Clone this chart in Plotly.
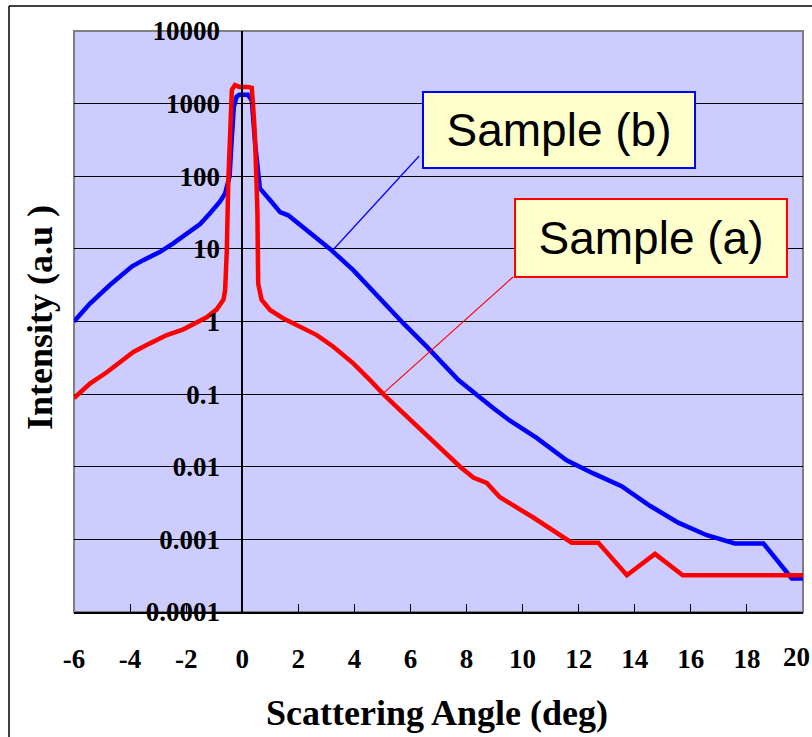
import plotly.graph_objects as go

# ---- data ----
angle_a = [-6.0, -5.43, -4.83, -4.36, -3.88, -3.29, -2.69, -2.10, -1.74, -1.27, -0.91,
           -0.67, -0.61, -0.55, -0.50, -0.43, -0.37, -0.26, -0.10, 0.20, 0.34, 0.42,
           0.46, 0.54, 0.57, 0.69, 0.99, 1.47, 2.06, 2.66, 3.25, 3.96, 4.56, 5.03,
           5.63, 6.82, 7.77, 8.24, 8.72, 9.19, 10.38, 11.75, 12.70, 13.72, 14.72,
           15.71, 20.0]
intensity_a = [0.088, 0.14, 0.20, 0.28, 0.38, 0.50, 0.65, 0.78, 0.92, 1.14, 1.47,
               2.0, 2.7, 9.5, 79, 660, 1550, 1800, 1700, 1700, 1650, 600,
               300, 34, 3.3, 2.0, 1.44, 1.10, 0.85, 0.65, 0.45, 0.265, 0.156, 0.10,
               0.06, 0.022, 0.010, 0.0071, 0.0060, 0.0038, 0.0020, 0.0009, 0.0009,
               0.00032, 0.00063, 0.00032, 0.00032]

angle_b = [-6.0, -5.43, -4.71, -3.94, -3.53, -2.93, -2.46, -1.98, -1.50, -1.15, -0.79,
           -0.61, -0.45, -0.38, -0.30, -0.20, -0.10, 0.20, 0.34, 0.46, 0.57, 0.63,
           0.99, 1.35, 1.64, 2.30, 3.13, 3.96, 4.44, 5.03, 5.75, 6.58, 7.71, 8.96,
           9.55, 10.50, 11.57, 12.52, 13.53, 14.54, 15.55, 16.57, 17.57, 18.59,
           19.60, 20.0]
intensity_b = [1.0, 1.77, 3.2, 5.7, 7.0, 9.1, 11.9, 16.3, 22, 31, 45,
               58, 100, 300, 900, 1245, 1320, 1320, 1120, 280, 98, 68,
               47, 32, 29, 18, 10, 5.1, 3.2, 1.86, 0.94, 0.45, 0.156, 0.064,
               0.043, 0.025, 0.0123, 0.0081, 0.0054, 0.0029, 0.0017, 0.00114, 0.00088, 0.00088,
               0.00029, 0.00029]

x_ticks = [-6, -4, -2, 0, 2, 4, 6, 8, 10, 12, 14, 16, 18, 20]
x_ticktext = ["-6", "-4", "-2", "0", "2", "4", "6", "8", "10", "12", "14", "16", "18", "20"]
y_tickvals = [1e-4, 1e-3, 1e-2, 1e-1, 1, 10, 100, 1000, 10000]
y_ticktext = ["0.0001", "0.001", "0.01", "0.1", "1", "10", "100", "1000", "10000"]

label_a = "Sample (a)"
label_b = "Sample (b)"
leader_a_x = [5.0, 9.66]
leader_a_y = [0.1, 4.1]
leader_b_x = [3.25, 6.31]
leader_b_y = [9.8, 190]

x_title = "Scattering Angle (deg)"
y_title = "Intensity (a.u )"

# ---- layout constants ----
W, H = 812, 737
ML, MR, MT, MB = 74, 9, 31, 125
PW, PH = W - ML - MR, H - MT - MB
X_MIN, X_MAX = -6, 20

def px_x(p):
    return (p - ML) / PW

def px_y(p):
    return (H - MB - p) / PH

SERIF = "Times New Roman, Liberation Serif, serif"
SANS = "Arial, Liberation Sans, sans-serif"
TICK_FONT = dict(family=SERIF, size=27, color="black", weight="bold")

fig = go.Figure()
fig.add_trace(go.Scatter(x=angle_b, y=intensity_b, mode="lines",
                         line=dict(color="#0000FF", width=4.5), hoverinfo="skip"))
fig.add_trace(go.Scatter(x=angle_a, y=intensity_a, mode="lines",
                         line=dict(color="#FF0000", width=4.5), hoverinfo="skip"))
fig.add_trace(go.Scatter(x=leader_b_x, y=leader_b_y, mode="lines",
                         line=dict(color="#0000FF", width=1.2), hoverinfo="skip"))
fig.add_trace(go.Scatter(x=leader_a_x, y=leader_a_y, mode="lines",
                         line=dict(color="#FF0000", width=1.2), hoverinfo="skip"))

# the last tick label (20) sits at the right edge of the picture; drawn separately
shown_ticks = x_ticks[:-1]
shown_text = x_ticktext[:-1]

fig.update_layout(
    width=W, height=H,
    margin=dict(l=ML, r=MR, t=MT, b=MB),
    paper_bgcolor="white",
    plot_bgcolor="#CCCCFF",
    showlegend=False,
    xaxis=dict(range=[X_MIN, X_MAX], tickvals=shown_ticks, ticktext=shown_text,
               showgrid=False, zeroline=False,
               ticks="inside", ticklen=8, tickcolor="black", tickwidth=1,
               showline=True, linecolor="black", linewidth=2,
               tickfont=TICK_FONT, ticklabelstandoff=22),
    yaxis=dict(type="log", range=[-4, 4], tickvals=y_tickvals, ticktext=y_ticktext,
               anchor="free", position=(0 - X_MIN) / (X_MAX - X_MIN), side="left",
               showgrid=True, gridcolor="black", gridwidth=1, zeroline=False,
               ticks="inside", ticklen=9, tickcolor="black", tickwidth=1,
               showline=True, linecolor="black", linewidth=1.5,
               tickfont=TICK_FONT, ticklabelstandoff=16),
)

# tick label for 20, kept inside the picture's right edge
fig.add_annotation(text=f"<b>{x_ticktext[-1]}</b>", xref="paper", yref="paper", x=px_x(811),
                   y=px_y(657), xanchor="right", yanchor="middle", showarrow=False,
                   font=TICK_FONT, borderpad=0)

# plot-area border (grey) and outer chart frame
fig.add_shape(type="rect", xref="paper", yref="paper", x0=0, x1=1, y0=0, y1=1,
              line=dict(color="#808080", width=2), layer="below")
fig.add_shape(type="line", xref="paper", yref="paper", x0=px_x(9), x1=px_x(830),
              y0=px_y(6), y1=px_y(6), line=dict(color="black", width=1.5))
fig.add_shape(type="line", xref="paper", yref="paper", x0=px_x(9), x1=px_x(9),
              y0=px_y(6), y1=px_y(760), line=dict(color="black", width=1.5))

# callout boxes
fig.add_annotation(text=label_b, xref="paper", yref="paper", x=px_x(559), y=px_y(130),
                   xanchor="center", yanchor="middle", showarrow=False,
                   font=dict(family=SANS, size=46, color="black"),
                   bgcolor="#FFFFCC", bordercolor="#0000FF", borderwidth=2,
                   width=270, height=74, borderpad=0)
fig.add_annotation(text=label_a, xref="paper", yref="paper", x=px_x(651), y=px_y(238),
                   xanchor="center", yanchor="middle", showarrow=False,
                   font=dict(family=SANS, size=46, color="black"),
                   bgcolor="#FFFFCC", bordercolor="#FF0000", borderwidth=2,
                   width=270, height=76, borderpad=0)

# axis titles
fig.add_annotation(text=x_title, xref="paper", yref="paper", x=px_x(437), y=px_y(713),
                   xanchor="center", yanchor="middle", showarrow=False,
                   font=dict(family=SERIF, size=36, color="black", weight="bold"))
fig.add_annotation(text=y_title, xref="paper", yref="paper", x=px_x(40), y=px_y(318),
                   xanchor="center", yanchor="middle", showarrow=False, textangle=-90,
                   font=dict(family=SERIF, size=36, color="black", weight="bold"))

fig.write_html("out.html")
